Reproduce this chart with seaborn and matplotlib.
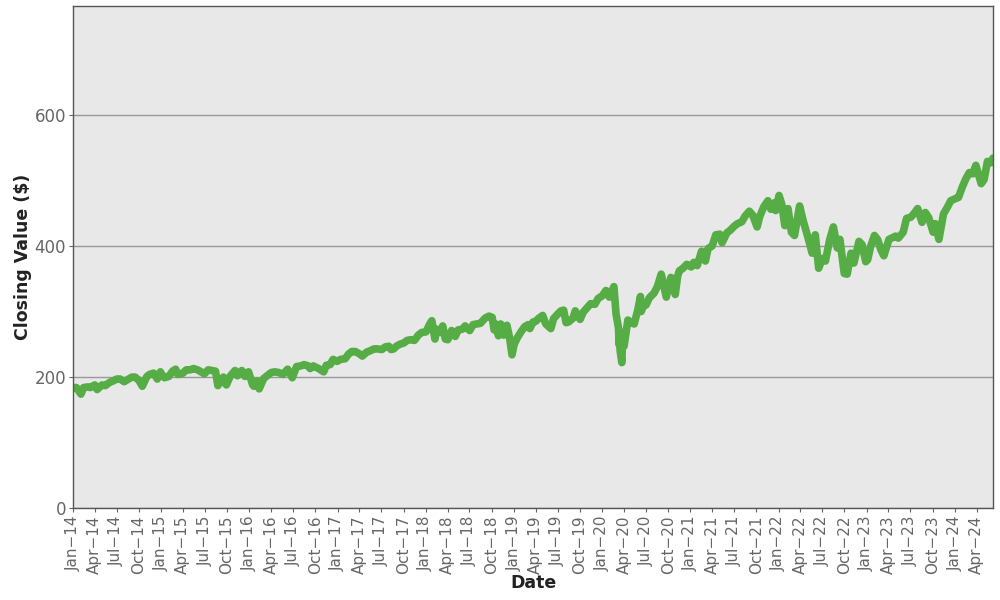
import pandas as pd
import matplotlib.pyplot as plt
import matplotlib.dates as mdates
import seaborn as sns

# closing values (roughly twice a month)
dates = [
    "2014-01-02", "2014-01-15", "2014-02-03", "2014-02-14", "2014-03-03", "2014-03-14",
    "2014-04-01", "2014-04-11", "2014-05-01", "2014-05-15", "2014-06-02", "2014-06-16",
    "2014-07-01", "2014-07-15", "2014-08-01", "2014-08-15", "2014-09-02", "2014-09-15",
    "2014-10-01", "2014-10-15", "2014-11-03", "2014-11-14", "2014-12-01", "2014-12-16",
    "2014-12-29",
    "2015-01-02", "2015-01-15", "2015-02-02", "2015-02-17", "2015-03-02", "2015-03-11",
    "2015-04-01", "2015-04-15", "2015-05-01", "2015-05-15", "2015-06-01", "2015-06-15",
    "2015-06-29", "2015-07-15", "2015-07-31", "2015-08-14", "2015-08-24", "2015-09-01",
    "2015-09-16", "2015-09-28", "2015-10-15", "2015-11-03", "2015-11-13", "2015-12-01",
    "2015-12-14", "2015-12-29",
    "2016-01-04", "2016-01-15", "2016-01-20", "2016-02-01", "2016-02-11", "2016-03-01",
    "2016-03-15", "2016-04-01", "2016-04-15", "2016-05-02", "2016-05-19", "2016-06-08",
    "2016-06-27", "2016-07-15", "2016-08-01", "2016-08-15", "2016-09-01", "2016-09-09",
    "2016-09-22", "2016-10-14", "2016-11-04", "2016-11-15", "2016-12-01", "2016-12-13",
    "2016-12-30",
    "2017-01-13", "2017-02-01", "2017-02-15", "2017-03-01", "2017-03-15", "2017-04-03",
    "2017-04-13", "2017-05-01", "2017-05-15", "2017-06-01", "2017-06-15", "2017-07-03",
    "2017-07-17", "2017-08-01", "2017-08-10", "2017-08-21", "2017-09-01", "2017-09-15",
    "2017-10-02", "2017-10-16", "2017-11-01", "2017-11-15", "2017-12-01", "2017-12-15",
    "2018-01-02", "2018-01-16", "2018-01-26", "2018-02-08", "2018-02-15", "2018-03-01",
    "2018-03-12", "2018-03-23", "2018-04-02", "2018-04-18", "2018-05-03", "2018-05-15",
    "2018-06-01", "2018-06-13", "2018-07-02", "2018-07-16", "2018-08-01", "2018-08-15",
    "2018-09-04", "2018-09-20", "2018-10-03", "2018-10-11", "2018-10-17", "2018-10-29",
    "2018-11-07", "2018-11-20", "2018-12-03", "2018-12-14", "2018-12-24",
    "2019-01-02", "2019-01-15", "2019-02-01", "2019-02-15", "2019-03-01", "2019-03-08",
    "2019-03-21", "2019-04-01", "2019-04-15", "2019-04-30", "2019-05-13", "2019-06-03",
    "2019-06-14", "2019-07-01", "2019-07-15", "2019-07-26", "2019-08-05", "2019-08-15",
    "2019-09-03", "2019-09-12", "2019-10-02", "2019-10-15", "2019-11-01", "2019-11-15",
    "2019-12-02", "2019-12-16",
    "2020-01-02", "2020-01-17", "2020-01-31", "2020-02-19", "2020-02-28", "2020-03-09",
    "2020-03-12", "2020-03-13", "2020-03-16", "2020-03-23", "2020-03-26", "2020-04-01",
    "2020-04-17", "2020-05-01", "2020-05-13", "2020-05-29", "2020-06-08", "2020-06-11",
    "2020-06-22", "2020-07-01", "2020-07-15", "2020-08-03", "2020-08-17", "2020-09-02",
    "2020-09-23", "2020-10-12", "2020-10-30", "2020-11-09", "2020-11-16", "2020-12-01",
    "2020-12-17",
    "2021-01-04", "2021-01-15", "2021-01-29", "2021-02-16", "2021-03-04", "2021-03-15",
    "2021-04-01", "2021-04-16", "2021-05-03", "2021-05-12", "2021-06-01", "2021-06-15",
    "2021-07-01", "2021-07-15", "2021-08-02", "2021-08-16", "2021-09-02", "2021-09-16",
    "2021-10-04", "2021-10-15", "2021-11-01", "2021-11-18", "2021-11-30", "2021-12-15",
    "2021-12-20",
    "2022-01-03", "2022-01-14", "2022-01-27", "2022-02-09", "2022-02-23", "2022-03-08",
    "2022-03-29", "2022-04-14", "2022-05-02", "2022-05-20", "2022-06-02", "2022-06-16",
    "2022-07-01", "2022-07-14", "2022-08-01", "2022-08-16", "2022-09-01", "2022-09-12",
    "2022-09-30", "2022-10-12", "2022-10-28", "2022-11-09", "2022-11-30", "2022-12-13",
    "2022-12-28",
    "2023-01-05", "2023-01-17", "2023-02-02", "2023-02-15", "2023-03-01", "2023-03-13",
    "2023-04-03", "2023-04-14", "2023-05-01", "2023-05-12", "2023-06-01", "2023-06-15",
    "2023-07-03", "2023-07-17", "2023-07-31", "2023-08-18", "2023-09-01", "2023-09-15",
    "2023-10-03", "2023-10-12", "2023-10-27", "2023-11-15", "2023-12-01", "2023-12-15",
    "2024-01-02", "2024-01-16", "2024-02-01", "2024-02-15", "2024-03-01", "2024-03-15",
    "2024-03-28", "2024-04-19", "2024-05-01", "2024-05-15", "2024-05-31", "2024-06-07",
]

closes = [
    184, 184, 174, 184, 185, 184, 188, 181, 188, 187, 192, 194,
    197, 197, 193, 196, 200, 200, 195, 186, 201, 204, 206, 197,
    208,
    205, 199, 201, 209, 212, 204, 206, 211, 211, 213, 211, 208,
    205, 211, 210, 209, 187, 191, 200, 188, 202, 210, 202, 210,
    201, 208,
    201, 188, 186, 194, 182, 198, 202, 207, 208, 207, 204, 212,
    199, 216, 217, 219, 217, 213, 217, 213, 208, 218, 219, 227,
    224,
    227, 228, 235, 239, 239, 235, 232, 238, 240, 243, 243, 242,
    246, 247, 242, 243, 247, 250, 252, 256, 257, 256, 264, 268,
    269, 280, 286, 258, 273, 268, 278, 258, 257, 271, 262, 272,
    273, 278, 271, 280, 281, 282, 290, 293, 291, 272, 281, 263,
    281, 264, 279, 260, 234,
    250, 260, 270, 277, 280, 274, 284, 285, 290, 294, 281, 274,
    289, 296, 301, 302, 283, 284, 290, 301, 288, 299, 306, 312,
    311, 320,
    324, 332, 322, 338, 296, 275, 249, 270, 240, 222, 261, 247,
    287, 283, 281, 304, 323, 300, 310, 310, 321, 328, 338, 357,
    322, 352, 326, 354, 362, 366, 372,
    368, 375, 370, 392, 377, 396, 400, 417, 418, 405, 420, 424,
    430, 434, 437, 446, 453, 447, 429, 445, 460, 469, 456, 466,
    454,
    477, 464, 431, 457, 421, 416, 461, 437, 414, 389, 417, 366,
    381, 377, 410, 429, 397, 410, 358, 357, 389, 374, 407, 402,
    376,
    379, 399, 416, 410, 394, 385, 410, 412, 415, 412, 421, 442,
    444, 450, 457, 436, 451, 443, 421, 434, 410, 449, 459, 469,
    472, 474, 490, 502, 512, 510, 523, 495, 501, 529, 527, 534,
]

df = pd.DataFrame({"Date": pd.to_datetime(dates), "Close": closes})

sns.set_theme(style="white", rc={
    "axes.facecolor": "#e8e8e8",
    "axes.edgecolor": "#555555",
    "xtick.bottom": True,
    "ytick.left": True,
})
plt.rcParams["font.family"] = ["DejaVu Sans"]

fig, ax = plt.subplots(figsize=(10, 6), dpi=100)
fig.subplots_adjust(left=0.073, right=0.993, top=0.99, bottom=0.153)

sns.lineplot(data=df, x="Date", y="Close", color="#56ad45", linewidth=5.5, ax=ax)

ax.set_xlim(pd.Timestamp("2014-01-01"), df["Date"].max())
ax.set_ylim(0, 766)
ax.set_yticks([0, 200, 400, 600])
ax.yaxis.grid(True, color="#999999", linewidth=1)
ax.set_axisbelow(True)

ax.xaxis.set_major_locator(mdates.MonthLocator(bymonth=[1, 4, 7, 10]))
ax.xaxis.set_major_formatter(mdates.DateFormatter("%b\u2212%y"))
ax.tick_params(axis="x", labelrotation=90, labelsize=11, colors="#666666", length=3, width=0.8, pad=2)
ax.tick_params(axis="y", labelsize=12, colors="#666666", length=3, width=0.8, pad=2)

ax.set_xlabel("Date", fontsize=12.5, fontweight="bold", color="#222222", labelpad=0)
ax.set_ylabel("Closing Value ($)", fontsize=12.5, fontweight="bold", color="#222222", labelpad=2)

for spine in ax.spines.values():
    spine.set_color("#555555")
    spine.set_linewidth(1)

plt.savefig("out.png", dpi=100)
